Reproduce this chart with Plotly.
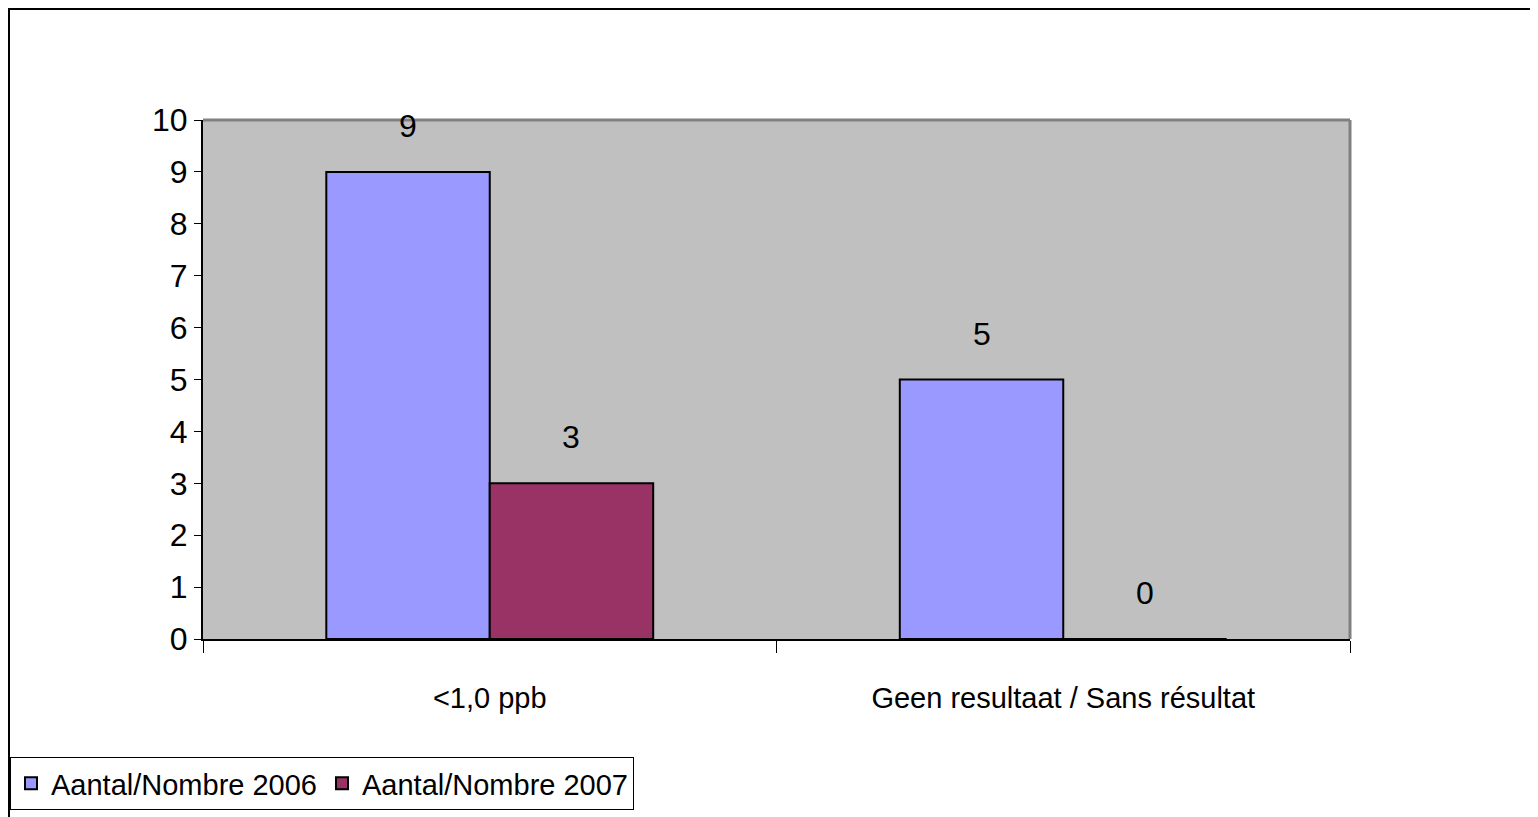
import plotly.graph_objects as go

categories = ["<1,0 ppb", "Geen resultaat / Sans résultat"]
values_2006 = [9, 5]
values_2007 = [3, 0]
series_names = ["Aantal/Nombre 2006", "Aantal/Nombre 2007"]
y_ticks = [0, 1, 2, 3, 4, 5, 6, 7, 8, 9, 10]

FONT = "Liberation Sans, Arial, sans-serif"
# page body has an 8px margin; figure sized to fill the rest of the window
W, H = 1530, 809
L, R, T, B = 195, 188, 112, 178
plot_w = W - L - R
plot_h = H - T - B

fig = go.Figure()
fig.add_trace(go.Bar(name=series_names[0], x=categories, y=values_2006,
                     marker=dict(color="#9999FF", line=dict(color="black", width=2))))
fig.add_trace(go.Bar(name=series_names[1], x=categories, y=values_2007,
                     marker=dict(color="#993366", line=dict(color="black", width=2))))

bar_w = plot_w / len(categories) * (1 - 0.43) / 2
for vals, sign in ((values_2006, -1), (values_2007, 1)):
    for c, v in zip(categories, vals):
        fig.add_annotation(x=c, y=v, text=str(v), showarrow=False,
                           xshift=sign * bar_w / 2, yshift=46,
                           font=dict(family=FONT, size=32, color="black"))

fig.update_layout(
    width=W, height=H,
    margin=dict(l=L, r=R, t=T, b=B, autoexpand=False),
    paper_bgcolor="white", plot_bgcolor="#C0C0C0",
    barmode="group", bargap=0.43, bargroupgap=0,
    font=dict(family=FONT, size=30, color="black"),
    showlegend=True,
    legend=dict(orientation="h", xref="container", yref="container",
                x=2 / W, xanchor="left",
                y=1 - 749 / H, yanchor="top",
                bordercolor="black", borderwidth=1, bgcolor="white",
                font=dict(family=FONT, size=29), traceorder="normal",
                itemwidth=30),
    xaxis=dict(showgrid=False, showline=True, linecolor="black", linewidth=2,
               ticks="outside", tickson="boundaries", ticklen=12, tickcolor="black",
               tickwidth=1, ticklabelstandoff=32, automargin=False,
               tickfont=dict(family=FONT, size=29)),
    yaxis=dict(range=[0, 10], tickvals=y_ticks, showgrid=False, showline=True,
               linecolor="black", linewidth=2, ticks="outside", ticklen=7,
               tickcolor="black", tickwidth=1, zeroline=False, automargin=False,
               tickfont=dict(family=FONT, size=32)),
    shapes=[
        dict(type="line", xref="paper", yref="paper", x0=0, x1=1, y0=1, y1=1,
             line=dict(color="#808080", width=3), layer="above"),
        dict(type="line", xref="paper", yref="paper", x0=1, x1=1, y0=0, y1=1,
             line=dict(color="#808080", width=3), layer="above"),
        dict(type="rect", xref="paper", yref="paper",
             x0=(1 - L) / plot_w, x1=(1528 - L) / plot_w,
             y0=-(H + 20 - T - plot_h) / plot_h, y1=1 + (T - 1) / plot_h,
             line=dict(color="black", width=2), layer="below"),
    ],
)

fig.write_html("out.html")
